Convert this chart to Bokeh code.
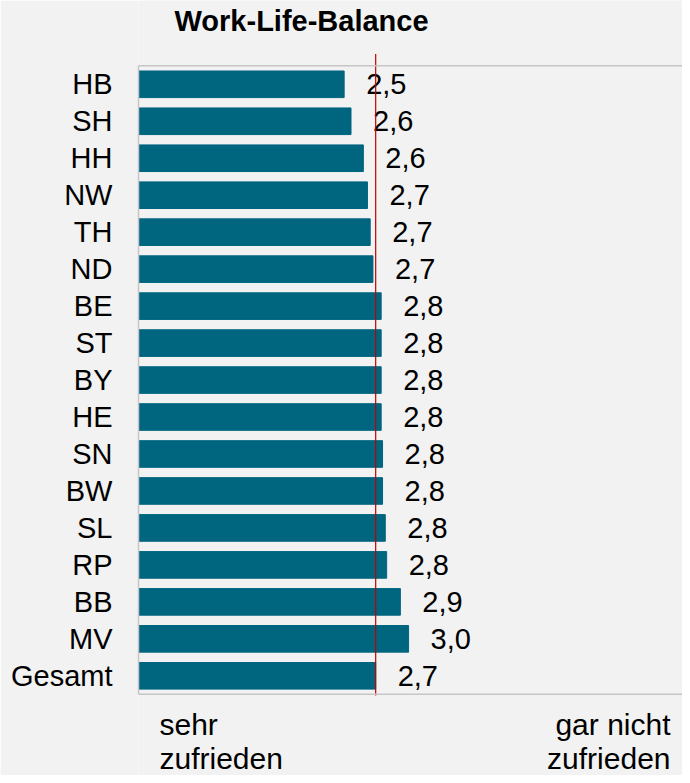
from bokeh.plotting import figure
from bokeh.models import Range1d, Span, FixedTicker, ColumnDataSource
from bokeh.core.properties import value
from bokeh.embed import file_html
from bokeh.resources import INLINE

# ---- data ----
states = ["HB", "SH", "HH", "NW", "TH", "ND", "BE", "ST", "BY", "HE",
          "SN", "BW", "SL", "RP", "BB", "MV", "Gesamt"]
scores = [2.50, 2.55, 2.64, 2.67, 2.69, 2.71, 2.77, 2.77, 2.77, 2.77,
          2.78, 2.78, 2.80, 2.81, 2.91, 2.97, 2.73]
score_labels = ["2,5", "2,6", "2,6", "2,7", "2,7", "2,7", "2,8", "2,8", "2,8", "2,8",
                "2,8", "2,8", "2,8", "2,8", "2,9", "3,0", "2,7"]
overall = 2.73
scale_min = 1
title_text = "Work-Life-Balance"
left_end = ["sehr", "zufrieden"]
right_end = ["gar nicht", "zufrieden"]

FONT = "Liberation Sans"
BAR = "#00657f"
BG = "#f2f2f2"
GRID = "#c6c6c6"

n = len(states)
ypos = [n - 1 - i for i in range(n)]

# layout (figure pixels); the frame fills the figure except the left label column
W, H = 682, 775
frame_left = 138
rows_top = 65.3        # top grey border
rows_bottom = 693.8    # bottom grey border
px_per_unit = 137.1
row_px = (rows_bottom - rows_top) / n
x_end = scale_min + (W - frame_left) / px_per_unit
y_bottom_row = -0.5
y_top_row = n - 0.5
y_start = y_bottom_row - (H - rows_bottom) / row_px
y_end = y_top_row + rows_top / row_px
BASE_FIX = 11.5        # alphabetic baseline correction of the svg renderer


def px_x(px):  # figure x -> data x
    return scale_min + (px - frame_left) / px_per_unit


def px_y(py):  # figure y -> data y
    return y_bottom_row + (rows_bottom - py) / row_px


p = figure(width=W, height=H, output_backend="svg", toolbar_location=None,
           x_range=Range1d(scale_min, x_end), y_range=Range1d(y_start, y_end),
           x_axis_location=None,
           min_border_left=frame_left, min_border_right=0,
           min_border_top=0, min_border_bottom=0)
p.background_fill_color = BG
p.border_fill_color = BG
p.outline_line_color = None
p.xgrid.visible = False
p.ygrid.visible = False

src = ColumnDataSource(dict(y=ypos, v=scores, lab=score_labels))
p.hbar(y="y", left=scale_min, right="v", height=0.72, source=src,
       fill_color=BAR, line_color=BAR)

p.text(x="v", y="y", text="lab", source=src, x_offset=22,
       text_align="left", text_baseline="middle",
       text_font=value(FONT), text_font_size="29px", text_color="black")

# grey frame lines (top, bottom) and red average line
p.add_layout(Span(location=y_top_row, dimension="width",
                  line_color=GRID, line_width=1.5))
p.add_layout(Span(location=y_bottom_row, dimension="width",
                  line_color=GRID, line_width=1.5))
p.segment(x0=[overall], y0=[px_y(695)], x1=[overall], y1=[px_y(53.5)],
          line_color="#c00000", line_width=1.2)

# y axis: state names
p.yaxis.ticker = FixedTicker(ticks=ypos)
p.yaxis.major_label_overrides = {y: s for y, s in zip(ypos, states)}
p.yaxis.bounds = (y_bottom_row, y_top_row)
p.yaxis.axis_line_color = GRID
p.yaxis.axis_line_width = 1.5
p.yaxis.major_tick_line_color = None
p.yaxis.minor_tick_line_color = None
p.yaxis.major_label_standoff = 20
p.yaxis.major_label_text_font = FONT
p.yaxis.major_label_text_font_size = "29px"
p.yaxis.major_label_text_color = "black"

# title
p.text(x=[px_x(174)], y=[px_y(31.7 - BASE_FIX)], text=[title_text],
       text_align="left", text_baseline="alphabetic",
       text_font=value(FONT), text_font_size="29px", text_font_style="bold",
       text_color="black")

# scale end labels
line_base = [735 - BASE_FIX, 769 - BASE_FIX]
p.text(x=[px_x(159)] * 2, y=[px_y(b) for b in line_base], text=left_end,
       text_align="left", text_baseline="alphabetic",
       text_font=value(FONT), text_font_size="30px", text_color="black")
p.text(x=[px_x(670)] * 2, y=[px_y(b) for b in line_base], text=right_end,
       text_align="right", text_baseline="alphabetic",
       text_font=value(FONT), text_font_size="30px", text_color="black")

open("out.html", "w").write(file_html(p, INLINE))
